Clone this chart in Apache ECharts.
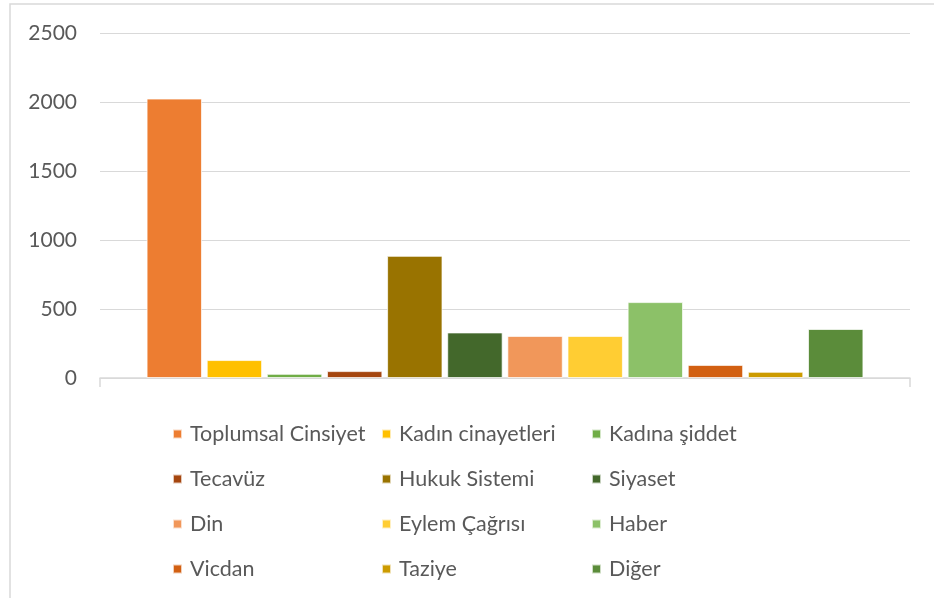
<!DOCTYPE html>
<html>
<head>
<meta charset="utf-8">
<script src="https://cdn.jsdelivr.net/npm/echarts@6/dist/echarts.min.js"></script>
<style>
html,body{margin:0;padding:0;background:#fff;}
#chart{width:934px;height:598px;}
</style>
</head>
<body>
<div id="chart"></div>
<script>
const seriesNames = ['Toplumsal Cinsiyet','Kadın cinayetleri','Kadına şiddet','Tecavüz','Hukuk Sistemi','Siyaset','Din','Eylem Çağrısı','Haber','Vicdan','Taziye','Diğer'];
const seriesValues = [2025,130,30,50,885,330,305,305,550,95,45,355];
const seriesColors = ['#ED7D31','#FFC000','#70AD47','#A5460F','#997300','#43682B','#F1975A','#FFCD33','#8CC168','#D26012','#CC9B00','#5B8C3A'];
const yTicks = [0,500,1000,1500,2000,2500];

const chart = echarts.init(document.getElementById('chart'));
const FONT = 'Lato';
const colLefts = [172, 381, 591];
const legends = colLefts.map((l, c) => ({
  orient: 'vertical',
  left: l,
  top: 422,
  padding: 0,
  itemGap: 21,
  itemWidth: 9,
  itemHeight: 9,
  icon: 'rect',
  selectedMode: false,
  data: seriesNames.filter((n, i) => i % 3 === c),
  textStyle: {fontFamily: FONT, fontSize: 21.5, color: '#595959', lineHeight: 24, padding: [0,0,0,3]}
}));

chart.setOption({
  animation: false,
  color: seriesColors,
  graphic: [{
    type: 'rect',
    shape: {x: 10, y: 4, width: 1000, height: 700},
    style: {fill: 'none', stroke: '#d9d9d9', lineWidth: 1.5},
    silent: true
  }],
  legend: legends,
  grid: {left: 100, right: 24, top: 33, bottom: 220, containLabel: false},
  xAxis: {
    type: 'category',
    data: [''],
    axisLine: {lineStyle: {color: '#d9d9d9', width: 1.5}},
    axisTick: {show: true, length: 9, lineStyle: {color: '#d9d9d9', width: 1.5}},
    axisLabel: {show: false}
  },
  yAxis: {
    type: 'value',
    min: yTicks[0],
    max: yTicks[yTicks.length - 1],
    interval: 500,
    axisLine: {show: false},
    axisTick: {show: false},
    splitLine: {lineStyle: {color: '#d9d9d9', width: 1.2}},
    axisLabel: {fontFamily: FONT, fontSize: 21, color: '#595959', margin: 23, formatter: v => String(v)}
  },
  series: seriesNames.map((n, i) => ({
    name: n,
    type: 'bar',
    data: [seriesValues[i]],
    barGap: '8.5%',
    barCategoryGap: '11.5%',
    itemStyle: {color: seriesColors[i], borderColor: 'rgba(255,255,255,0.7)', borderWidth: 1}
  }))
});
</script>
</body>
</html>
